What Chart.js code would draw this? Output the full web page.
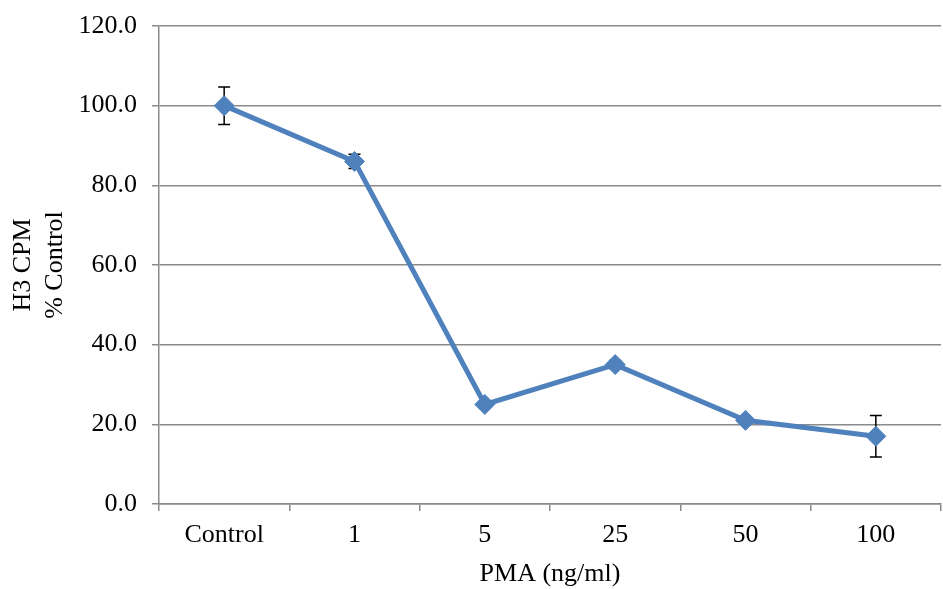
<!DOCTYPE html>
<html>
<head>
<meta charset="utf-8">
<script src="https://cdn.jsdelivr.net/npm/chart.js@4"></script>
<style>
  html, body { margin: 0; padding: 0; background: #fff; }
  #wrap { width: 943px; height: 589px; }
</style>
</head>
<body>
<div id="wrap"><canvas id="chart"></canvas></div>
<script>
const categories = ['Control', '1', '5', '25', '50', '100'];
const values = [100.0, 86.0, 25.0, 35.0, 21.0, 17.0];
const errors = [4.7, 1.8, 0.8, 1.0, 0.8, 5.2];
const yTicks = [0, 20, 40, 60, 80, 100, 120];

const font = { family: '"Liberation Serif", "Times New Roman", serif', size: 26 };
const gray = '#8a8a8a';

// error bars drawn behind the markers
const errorBars = {
    id: 'errorBars',
    beforeDatasetsDraw(chart) {
        const ctx = chart.ctx;
        const x = chart.scales.x, y = chart.scales.y;
        ctx.save();
        ctx.strokeStyle = '#000';
        ctx.lineWidth = 1.5;
        values.forEach((v, i) => {
            const px = x.getPixelForValue(i);
            const top = y.getPixelForValue(v + errors[i]);
            const bot = y.getPixelForValue(v - errors[i]);
            ctx.beginPath();
            ctx.moveTo(px, top); ctx.lineTo(px, bot);
            ctx.moveTo(px - 6, top); ctx.lineTo(px + 6, top);
            ctx.moveTo(px - 6, bot); ctx.lineTo(px + 6, bot);
            ctx.stroke();
        });
        ctx.restore();
    }
};

new Chart(document.getElementById('chart'), {
    type: 'line',
    data: {
        labels: categories,
        datasets: [{
            data: values,
            borderColor: '#4F81BD',
            backgroundColor: '#4F81BD',
            borderWidth: 5,
            pointStyle: 'rectRot',
            pointRadius: 10,
            pointBorderWidth: 1,
            pointHoverRadius: 10,
            tension: 0
        }]
    },
    options: {
        responsive: true,
        maintainAspectRatio: false,
        animation: false,
        layout: { autoPadding: false, padding: { top: 26, right: 2, left: 0, bottom: 0 } },
        plugins: { legend: { display: false }, tooltip: { enabled: false } },
        scales: {
            x: {
                offset: true,
                afterFit: s => { s.height = 85; s.paddingLeft = 0; s.paddingRight = 0; },
                grid: { offset: true, drawOnChartArea: false, drawTicks: true, tickLength: 7, color: gray, lineWidth: 1.5 },
                border: { color: gray, width: 1.5 },
                ticks: { color: '#000', font: font, padding: 9, maxRotation: 0 },
                title: { display: true, text: 'PMA (ng/ml)', color: '#000', font: font, padding: { top: 0, bottom: -1 } }
            },
            y: {
                min: 0,
                max: 120,
                afterFit: s => { s.width = 159; s.paddingTop = 0; s.paddingBottom = 0; },
                afterBuildTicks: s => { s.ticks = yTicks.map(v => ({ value: v })); },
                grid: { color: gray, lineWidth: 1.5, tickLength: 7 },
                border: { color: gray, width: 1.5 },
                ticks: { color: '#000', font: font, padding: 15, callback: v => Number(v).toFixed(1) },
                title: { display: true, text: ['H3 CPM', '% Control'], color: '#000', font: font, padding: { top: 8, bottom: 0 } }
            }
        }
    },
    plugins: [errorBars]
});
</script>
</body>
</html>
